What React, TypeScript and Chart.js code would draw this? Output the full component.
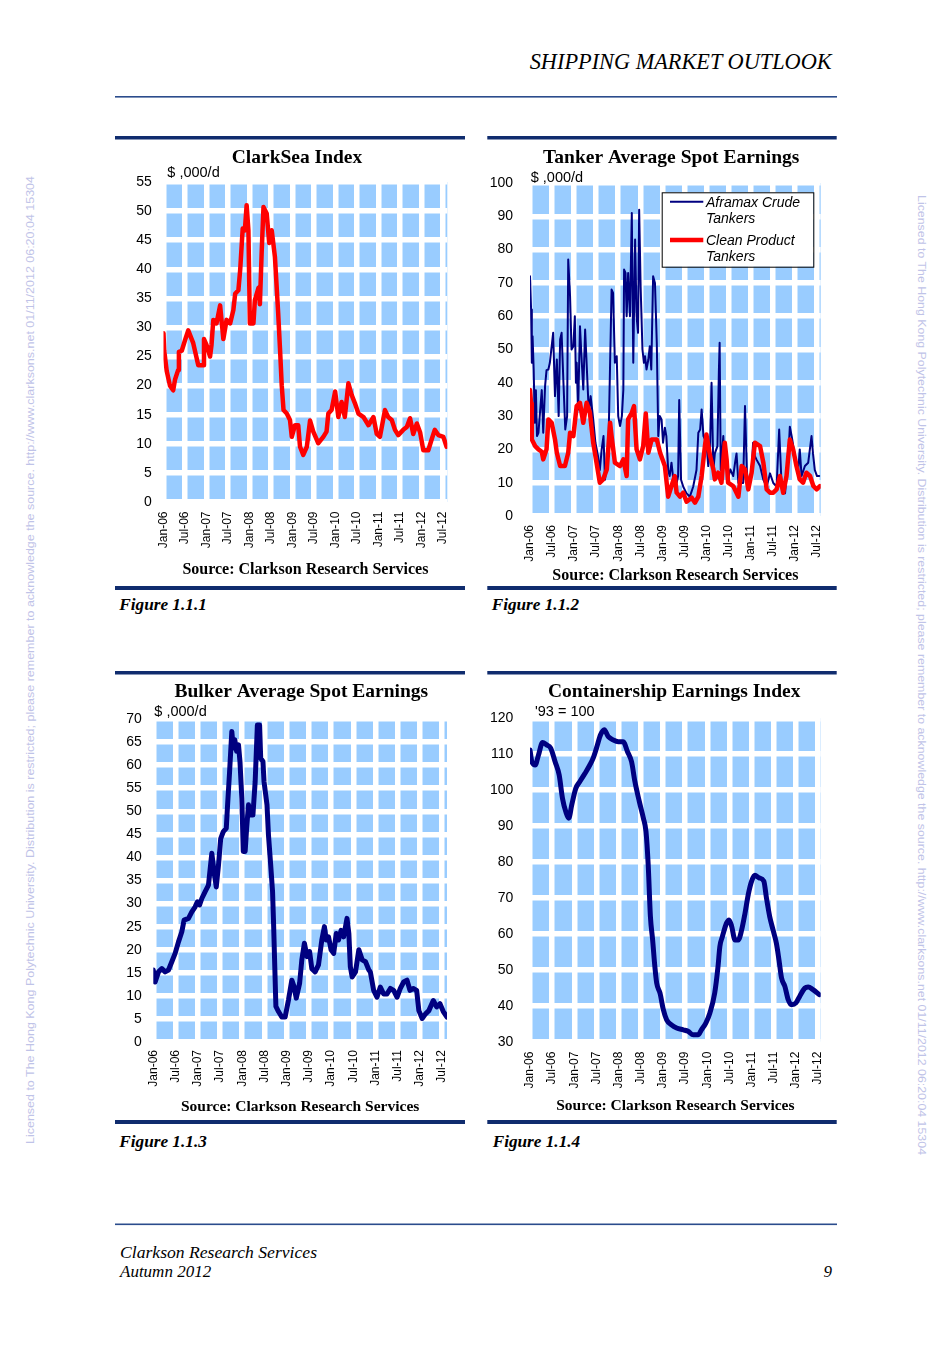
import React, { useEffect, useRef } from "react";
import { Chart, registerables } from "chart.js";

Chart.register(...registerables);

// ---------------- data ----------------
// x values are months since Jan-2006
const xTickLabels = [
  "Jan-06", "Jul-06", "Jan-07", "Jul-07", "Jan-08", "Jul-08", "Jan-09",
  "Jul-09", "Jan-10", "Jul-10", "Jan-11", "Jul-11", "Jan-12", "Jul-12",
];
const monthsPerTick = 6;
const sourceText = "Source: Clarkson Research Services";

// Figure 1.1.1 ClarkSea Index ($ ,000/d)
const clarkseaMonth = [
  0, 0.2, 0.9, 1.8, 2.7, 3.2, 4.1, 4.3, 5.1, 6.0, 6.9, 8.3, 9.7, 11.1, 11.3, 12.0,
  13.0, 13.4, 13.9, 14.8, 15.8, 16.7, 17.6, 18.6, 19.5, 20.0, 20.9, 21.4, 22.1,
  22.7, 23.2, 23.7, 24.1, 25.1, 25.5, 26.5, 26.9, 27.4, 27.9, 28.8, 29.5, 30.2,
  31.1, 32.0, 32.5, 33.0, 33.5, 34.4, 35.3, 35.8, 36.7, 37.6, 38.1, 39.0, 40.0,
  40.9, 41.8, 43.2, 44.6, 45.5, 46.0, 46.9, 47.9, 48.8, 49.7, 50.6, 51.6, 52.5,
  53.4, 54.4, 55.8, 57.2, 58.6, 59.5, 60.4, 61.8, 62.7, 63.7, 64.6, 65.5, 66.9,
  67.9, 68.8, 69.7, 70.7, 71.6, 72.5, 73.9, 74.8, 75.7, 76.7, 78.1, 79.0,
];
const clarkseaValue = [
  29, 26, 22.5, 20, 19.2, 21, 22.7, 25.8, 26, 27.8, 29.5, 27.3, 23.5, 23.5, 28, 27,
  25, 27, 31.3, 30.7, 33.8, 28, 31.3, 30.7, 33, 35.8, 36.4, 39.9, 47,
  46.7, 51, 46.7, 30.7, 30.7, 34.7, 36.8, 34, 43, 50.7, 49.6, 44.5, 46.7,
  42.1, 32.5, 26.5, 20, 15.8, 15.2, 14.1, 11.2, 13.2, 13.2, 9.5, 8.1, 9.5,
  14, 12.1, 10.1, 11.2, 12.1, 15.2, 15.8, 19, 14.6, 17.2, 14.6, 20.4, 18.4,
  17, 15.2, 14.6, 13.2, 14.6, 11.7, 11.2, 15.8, 14.6, 14.1, 12.4, 11.5, 12.4,
  12.9, 14.4, 11.7, 13.5, 12, 8.9, 8.9, 10.7, 12.4, 11.5, 11.2, 9.5,
];

// Figure 1.1.2 Tanker Average Spot Earnings ($ ,000/d)
const aframaxLabel = "Aframax Crude Tankers";
const aframaxMonth = [
  0, 0.3, 0.5, 0.7, 1.0, 1.3, 1.6, 1.9, 2.3, 2.7, 3.2, 3.6, 4.1, 4.5, 5.0, 5.4,
  6.3, 6.8, 7.3, 7.8, 8.2, 8.6, 9.1, 9.6, 10.1, 10.4, 10.9, 11.3, 11.8, 12.2,
  12.5, 12.7, 13.1, 13.6, 14.1, 14.5, 15.0, 15.4, 16.0, 16.5, 17.2, 17.8, 18.5,
  19.0, 19.5, 20.0, 20.4, 20.9, 21.4, 21.8, 22.2, 22.6, 23.1, 23.6, 24.0, 24.5,
  25.0, 25.4, 25.6, 26.0, 26.3, 26.7, 27.2, 27.7, 28.1, 28.6, 29.0, 29.4, 29.7,
  30.1, 30.6, 31.0, 31.3, 31.7, 32.2, 32.6, 33.0, 33.5, 34.0, 34.5, 34.9, 35.3,
  35.8, 36.2, 36.7, 37.1, 37.6, 38.0, 38.5, 39.0, 39.5, 39.9, 40.3, 40.6, 41.1,
  41.7, 42.6, 43.5, 44.4, 45.3, 45.8, 46.3, 46.7, 47.2, 48.0, 48.5, 49.0, 49.4,
  49.9, 50.3, 51.0, 51.4, 51.6, 51.9, 52.6, 53.0, 53.5, 53.9, 54.5, 55.3, 55.8,
  56.2, 56.7, 58.0, 58.5, 59.0, 59.4, 60.3, 60.7, 61.2, 61.6, 62.6, 63.5, 64.4,
  65.3, 66.2, 67.1, 67.8, 68.4, 69.4, 70.3, 70.7, 71.2, 72.1, 73.0, 73.4, 73.9,
  74.8, 75.7, 76.6, 77.0, 77.5, 78.1, 78.7,
];
const aframaxValue = [
  72, 62, 46, 54, 44, 28, 37.8, 24, 25, 30.8, 37.8, 25, 39, 43.8, 44, 46,
  55, 36, 47, 30, 53, 55, 40, 26, 30, 77, 66, 50, 51, 60,
  40, 46, 32, 57, 46, 38, 56, 46, 31, 36, 29, 22, 18,
  13.8, 20, 24, 10.9, 15, 24, 46, 68, 67, 46, 48, 30, 27,
  30, 38, 74, 73, 60, 73, 60, 91, 46, 83, 60, 55, 92,
  69, 50, 46, 48, 44, 47, 51, 44, 72, 70, 52, 24, 30,
  29, 22, 26.5, 24, 13.8, 12, 16, 10.9, 12, 9.9, 12, 34.8, 10.9,
  8.8, 6.8, 5.8, 8.8, 13.8, 25, 26, 32, 24, 22, 15, 21, 40,
  13.8, 18.8, 21, 43.8, 52, 13.8, 24, 15, 18, 11, 14, 12, 16,
  18.8, 9.9, 9.9, 33, 13.8, 8.8, 13.8, 22, 18, 17, 15, 10.9, 8.8,
  12.8, 9.9, 8.8, 26, 10.9, 6.8, 18, 26.8, 24, 18, 13.8, 20, 12,
  15, 16, 24, 18.8, 13.8, 12, 12,
];
const cleanLabel = "Clean Product Tankers";
const cleanMonth = [
  0, 0.3, 0.5, 1.4, 2.3, 3.2, 3.6, 4.5, 5.0, 5.9, 6.8, 7.3, 8.2, 9.5, 10.4, 10.9,
  11.8, 12.7, 13.6, 14.5, 15.4, 16.3, 17.2, 18.1, 19.0, 19.9, 20.9, 21.8, 22.2,
  23.1, 24.5, 25.4, 26.3, 26.7, 27.7, 28.3, 29.0, 29.9, 30.8, 31.5, 32.2, 33.1,
  34.5, 35.4, 36.7, 37.6, 38.5, 39.4, 39.9, 40.8, 41.7, 42.6, 44.0, 44.9, 45.8,
  46.7, 47.6, 48.0, 49.0, 49.9, 50.3, 51.2, 52.1, 53.0, 53.5, 53.9, 55.3, 56.7,
  57.6, 58.5, 59.4, 60.3, 61.2, 62.6, 63.5, 64.4, 65.3, 66.2, 67.1, 68.0, 68.9,
  69.8, 70.7, 71.6, 72.5, 73.4, 74.3, 75.2, 76.2, 77.1, 78.0, 78.9,
];
const cleanValue = [
  37.8, 33.8, 23, 21, 20, 19.3, 17, 20, 29, 28, 23, 19, 15, 15, 19, 25,
  24, 33, 34, 28, 34, 31, 22, 16, 10, 11, 14, 28, 24,
  16, 15, 17, 12, 29, 31, 33, 20, 17, 21, 30.8, 19, 23,
  23, 19, 15, 5.8, 9, 12, 7, 5.8, 7, 4.3, 5.5, 4, 5.8,
  12, 21, 24.5, 18, 14, 11, 13, 10, 22, 17, 10, 9, 5.8,
  15, 14, 8, 13, 22, 21, 16, 8, 7, 7, 8, 12, 7,
  12, 23, 20, 15, 11, 10, 13, 12, 9, 8, 9,
];

// Figure 1.1.3 Bulker Average Spot Earnings ($ ,000/d)
const bulkerMonth = [
  0, 0.5, 1.4, 2.3, 3.2, 4.1, 5.0, 5.9, 6.8, 7.7, 8.3, 9.5, 10.4, 11.3, 11.9, 12.5,
  13.1, 14.0, 14.9, 15.8, 16.4, 17.0, 17.6, 18.2, 18.9, 19.7, 20.0, 20.6, 21.2,
  21.6, 22.0, 22.5, 23.0, 23.4, 23.9, 24.3, 24.8, 25.2, 25.7, 26.1, 26.9, 27.5,
  28.1, 28.7, 29.0, 29.6, 29.9, 30.7, 31.1, 31.7, 32.2, 32.5, 32.8, 33.1, 33.8,
  34.7, 35.6, 36.5, 37.4, 38.0, 38.6, 39.5, 40.1, 40.8, 41.5, 42.2, 42.8, 43.7,
  44.6, 45.5, 46.2, 46.7, 47.3, 48.0, 48.7, 49.4, 50.0, 50.7, 51.4, 52.3, 52.8,
  53.2, 53.7, 54.6, 55.5, 56.4, 57.3, 58.2, 58.6, 59.5, 60.4, 61.3, 62.2, 63.1,
  64.0, 64.9, 65.8, 66.7, 67.6, 68.5, 69.3, 70.2, 71.1, 71.7, 72.6, 73.5, 74.4,
  75.6, 76.5, 77.4, 78.3, 79.3,
];
const bulkerValue = [
  15.6, 13, 15.2, 15.9, 15.2, 15.6, 17.4, 19.2, 21.7, 23.9, 26.4, 26.8, 28.2, 29.3, 30.4, 29.7,
  31.1, 32.6, 34, 40.9, 36.9, 33.6, 38.3, 44.1, 45.6, 46.3, 50.6, 58.6, 67.3,
  63.7, 65.5, 63, 64.4, 60.8, 52.8, 41.3, 41.3, 46.3, 51.4, 49.2, 49.2, 56.4,
  68.7, 68.7, 61.5, 60.8, 56.4, 51.4, 44.8, 38.3, 32.6, 25, 16.3, 7.7, 6.6,
  5.4, 5.4, 9.1, 13.4, 12, 9.5, 12.7, 17.8, 21.4, 18.5, 19.6, 15.9, 15.2,
  16.7, 22.1, 25, 22.1, 22.8, 20, 19.2, 23.5, 22.1, 24.2, 22.8, 26.8, 23.5,
  16.3, 14.1, 15.2, 20, 17.8, 17.4, 15.6, 15.2, 11.2, 9.7, 11.9, 10.4, 10.4,
  11.6, 11.2, 9.7, 11.6, 13, 13.4, 11.2, 11.6, 11.2, 6.8, 5.1, 6.1, 6.8,
  9, 7.6, 8.3, 6.6, 5.4,
];

// Figure 1.1.4 Containership Earnings Index ('93 = 100)
const containerMonth = [
  0, 0.5, 1.4, 2.3, 3.4, 4.5, 5.6, 6.8, 7.9, 8.8, 9.7, 10.5, 11.3, 12.4, 13.5, 14.9,
  16.2, 17.1, 18.0, 19.1, 20.1, 21.2, 22.5, 23.9, 25.2, 26.4, 27.5, 28.4, 29.6,
  30.7, 31.4, 32.0, 32.6, 33.2, 33.8, 34.3, 35.2, 36.1, 37.0, 38.3, 39.7, 41.5,
  42.8, 44.2, 45.5, 46.4, 47.6, 48.7, 50.0, 50.9, 51.4, 52.1, 53.2, 53.9, 54.6,
  55.5, 56.4, 57.3, 58.2, 59.1, 60.0, 60.9, 62.0, 63.3, 64.0, 64.9, 65.8, 66.7,
  67.4, 68.1, 69.0, 69.9, 70.8, 72.0, 73.0, 74.4, 75.3, 76.6, 78.3,
];
const containerValue = [
  111.2, 107.9, 107, 109.8, 113.3, 112.6, 111.7, 107.9, 104.2, 97.7, 94, 92.2, 95.9, 100.5, 102.4, 104.7,
  107, 108.9, 111.7, 115.4, 116.8, 114.9, 114, 113.5, 113.5, 110.7, 107.9, 102.4, 96.8,
  92.2, 88.5, 79.2, 64.8, 58.3, 50.9, 46.3, 43.5, 38.9, 36.1, 34.7, 33.8, 33.3,
  32.9, 31.9, 31.9, 33.3, 35.2, 38, 43.5, 50.9, 56.5, 59.3, 63, 63.9, 62.1,
  58.3, 58.3, 61.1, 65.7, 71, 74.7, 76.3, 75.6, 74.7, 70.1, 64.8, 61.1, 57.4,
  52.8, 47.7, 45.4, 41.7, 40.3, 40.8, 42.6, 44.9, 45.2, 44.5, 43.1,
];

// ---------------- styles ----------------
const SERIF = "'Liberation Serif', 'Times New Roman', serif";
const SANS = "'Liberation Sans', Arial, sans-serif";
const PLOT_BG = "#99CCFF";
const NAVY = "#000080";
const RED = "#FF0000";
const BAR = "#102C6E";
const RULE = "#2B4C8C";
const WATER = "#BFC3E8";

const watermark =
  "Licensed to The Hong Kong Polytechnic University.  Distribution is restricted; please remember to acknowledge the source.  http://www.clarksons.net  01/11/2012 06:20:04 15304";

const decorPlugin = {
  id: "decor",
  beforeDraw(chart: any) {
    const { ctx, chartArea: a } = chart;
    ctx.save();
    ctx.fillStyle = PLOT_BG;
    ctx.fillRect(a.left, a.top, a.right - a.left, a.bottom - a.top);
    ctx.restore();
  },
  afterDraw(chart: any, _args: any, opts: any) {
    const ctx = chart.ctx;
    ctx.save();
    ctx.fillStyle = "#000";
    ctx.font = `bold ${opts.titleSize}px ${SERIF}`;
    ctx.textAlign = "center";
    ctx.textBaseline = "alphabetic";
    ctx.fillText(opts.title, opts.titleX, opts.titleY);
    ctx.font = `${opts.unitSize}px ${SANS}`;
    ctx.textAlign = "left";
    ctx.textBaseline = "middle";
    ctx.fillText(opts.unit, opts.unitX, opts.unitY);
    const L = opts.legend;
    if (L) {
      ctx.fillStyle = "#fff";
      ctx.fillRect(L.x, L.y, L.w, L.h);
      ctx.strokeStyle = "#000";
      ctx.lineWidth = 1;
      ctx.strokeRect(L.x + 0.5, L.y + 0.5, L.w, L.h);
      chart.data.datasets.forEach((ds: any, i: number) => {
        const yc = L.y + L.rowTop + i * L.rowGap;
        ctx.strokeStyle = ds.borderColor;
        ctx.lineWidth = ds.borderWidth;
        ctx.lineCap = "butt";
        ctx.beginPath();
        ctx.moveTo(L.x + L.lineX0, yc);
        ctx.lineTo(L.x + L.lineX1, yc);
        ctx.stroke();
        const label: string = ds.label;
        const cut = label.lastIndexOf(" ");
        const lines = [label.slice(0, cut), label.slice(cut + 1)];
        ctx.fillStyle = "#000";
        ctx.font = `italic ${L.fontSize}px ${SANS}`;
        ctx.textAlign = "left";
        ctx.textBaseline = "middle";
        lines.forEach((t, j) => ctx.fillText(t, L.x + L.textX, yc + 1 + j * L.lineHeight));
      });
    }
    ctx.restore();
  },
};

type Series = {
  label: string;
  months: number[];
  values: number[];
  color: string;
  width: number;
  order: number;
  smooth?: boolean;
};

type Spec = {
  left: number;
  top: number;
  width: number;
  height: number;
  yMin: number;
  yMax: number;
  yStep: number;
  yAxisWidth: number;
  yPad: number;
  xMax: number;
  xAxisHeight: number;
  xPad: number;
  pad: { top: number; right: number; bottom: number };
  sourceSize: number;
  series: Series[];
  decor: any;
};

function PanelChart({ spec }: { spec: Spec }) {
  const ref = useRef<HTMLCanvasElement>(null);
  useEffect(() => {
    const chart = new Chart(ref.current as HTMLCanvasElement, {
      type: "line",
      data: {
        datasets: spec.series.map((s) => ({
          label: s.label,
          data: s.months.map((m, i) => ({ x: m, y: s.values[i] })),
          borderColor: s.color,
          backgroundColor: s.color,
          borderWidth: s.width,
          pointRadius: 0,
          tension: 0,
          cubicInterpolationMode: s.smooth ? "monotone" : "default",
          borderJoinStyle: "round",
          borderCapStyle: "round",
          order: s.order,
        })),
      } as any,
      options: {
        animation: false,
        responsive: false,
        events: [],
        layout: { padding: { left: 0, right: spec.pad.right, top: spec.pad.top, bottom: spec.pad.bottom } },
        plugins: {
          legend: { display: false },
          title: { display: false },
          tooltip: { enabled: false },
          decor: spec.decor,
        } as any,
        scales: {
          x: {
            type: "linear",
            bounds: "data",
            min: 0,
            max: spec.xMax,
            afterBuildTicks: (s: any) => {
              s.ticks = xTickLabels.map((_, i) => ({ value: i * monthsPerTick }));
            },
            afterFit: (s: any) => {
              s.height = spec.xAxisHeight;
              s.paddingLeft = 0;
              s.paddingRight = 0;
            },
            ticks: {
              autoSkip: false,
              minRotation: 90,
              maxRotation: 90,
              padding: spec.xPad,
              color: "#000",
              font: { family: SANS, size: 12 },
              callback: (_v: any, i: number) => xTickLabels[i],
            },
            grid: { color: "#FFFFFF", lineWidth: 5.5, drawTicks: false },
            border: { display: false },
            title: {
              display: true,
              text: sourceText,
              color: "#000",
              font: { family: SERIF, size: spec.sourceSize, weight: "bold" },
              padding: { top: 0, bottom: 0 },
            },
          },
          y: {
            type: "linear",
            min: spec.yMin,
            max: spec.yMax,
            afterFit: (s: any) => {
              s.width = spec.yAxisWidth;
              s.paddingTop = 0;
              s.paddingBottom = 0;
            },
            ticks: {
              stepSize: spec.yStep,
              padding: spec.yPad,
              color: "#000",
              font: { family: SANS, size: 14 },
            },
            grid: { color: "#FFFFFF", lineWidth: 5.5, drawTicks: false },
            border: { display: false },
          },
        } as any,
      },
      plugins: [decorPlugin as any],
    });
    return () => chart.destroy();
  }, []);
  return (
    <canvas
      ref={ref}
      width={spec.width}
      height={spec.height}
      style={{ position: "absolute", left: spec.left, top: spec.top, width: spec.width, height: spec.height }}
    />
  );
}

const specs: Spec[] = [
  {
    left: 115, top: 140, width: 350, height: 444,
    yMin: 0, yMax: 55, yStep: 5, yAxisWidth: 48.5, yPad: 11.8,
    xMax: 79.2, xAxisHeight: 77.6, xPad: 9.5,
    pad: { top: 42, right: 17.7, bottom: 4.4 },
    sourceSize: 16,
    series: [
      { label: "ClarkSea Index", months: clarkseaMonth, values: clarkseaValue, color: RED, width: 4.5, order: 0 },
    ],
    decor: { title: "ClarkSea Index", titleX: 182, titleY: 22.7, titleSize: 19.5, unit: "$ ,000/d", unitX: 52.3, unitY: 33.3, unitSize: 14.5 },
  },
  {
    left: 485, top: 140, width: 352, height: 446,
    yMin: 0, yMax: 100, yStep: 10, yAxisWidth: 45, yPad: 17,
    xMax: 79.1, xAxisHeight: 69.3, xPad: 9,
    pad: { top: 43, right: 16.3, bottom: 0.7 },
    sourceSize: 16,
    series: [
      { label: aframaxLabel, months: aframaxMonth, values: aframaxValue, color: NAVY, width: 2, order: 1 },
      { label: cleanLabel, months: cleanMonth, values: cleanValue, color: RED, width: 4.5, order: 0 },
    ],
    decor: {
      title: "Tanker Average Spot Earnings", titleX: 186.2, titleY: 22.7, titleSize: 19.5,
      unit: "$ ,000/d", unitX: 45.7, unitY: 37.7, unitSize: 14.5,
      legend: { x: 176.7, y: 52.3, w: 151.6, h: 74.4, rowTop: 9.4, rowGap: 38.3, lineX0: 8.3, lineX1: 41.6, textX: 44.3, lineHeight: 16.6, fontSize: 14 },
    },
  },
  {
    left: 115, top: 676, width: 350, height: 442,
    yMin: 0, yMax: 70, yStep: 5, yAxisWidth: 38.3, yPad: 11.6,
    xMax: 79.3, xAxisHeight: 74, xPad: 8,
    pad: { top: 43, right: 18, bottom: 2 },
    sourceSize: 15.5,
    series: [
      { label: "Bulker Average Spot Earnings", months: bulkerMonth, values: bulkerValue, color: NAVY, width: 5, order: 0 },
    ],
    decor: { title: "Bulker Average Spot Earnings", titleX: 186.3, titleY: 20.7, titleSize: 19.5, unit: "$ ,000/d", unitX: 39.3, unitY: 35.7, unitSize: 14.5 },
  },
  {
    left: 485, top: 676, width: 352, height: 442,
    yMin: 30, yMax: 120, yStep: 10, yAxisWidth: 45, yPad: 16.7,
    xMax: 78.7, xAxisHeight: 73.6, xPad: 10,
    pad: { top: 42.3, right: 16.3, bottom: 2.7 },
    sourceSize: 15.5,
    series: [
      { label: "Containership Earnings Index", months: containerMonth, values: containerValue, color: NAVY, width: 5, order: 0, smooth: true },
    ],
    decor: { title: "Containership Earnings Index", titleX: 189.2, titleY: 20.7, titleSize: 19.5, unit: "'93 = 100", unitX: 50, unitY: 35.7, unitSize: 14.5 },
  },
];

export default function App() {
  return (
    <div style={{ position: "absolute", left: 0, top: 0, width: 952, height: 1347, background: "#fff", overflow: "hidden" }}>
      <svg width={952} height={1347} style={{ position: "absolute", left: 0, top: 0 }}>
        <text x={831.7} y={69.3} textAnchor="end" textLength={302} lengthAdjust="spacingAndGlyphs"
          style={{ fontFamily: SERIF, fontStyle: "italic", fontSize: 23 }} fill="#000">SHIPPING MARKET OUTLOOK</text>
        <rect x={115} y={96} width={722} height={1.6} fill={RULE} />

        <rect x={115} y={136} width={350} height={3.5} fill={BAR} />
        <rect x={487.3} y={136} width={349.4} height={3.5} fill={BAR} />
        <rect x={115} y={586} width={350} height={4} fill={BAR} />
        <rect x={487.3} y={586} width={349.4} height={4} fill={BAR} />
        <rect x={115} y={671} width={350} height={3.5} fill={BAR} />
        <rect x={487.3} y={671} width={349.4} height={3.5} fill={BAR} />
        <rect x={115} y={1120} width={350} height={4} fill={BAR} />
        <rect x={487.3} y={1120} width={349.4} height={4} fill={BAR} />

        {[
          { t: "Figure 1.1.1", x: 119.3, y: 610 },
          { t: "Figure 1.1.2", x: 491.7, y: 610 },
          { t: "Figure 1.1.3", x: 119.3, y: 1146.7 },
          { t: "Figure 1.1.4", x: 492.7, y: 1146.7 },
        ].map((c) => (
          <text key={c.t} x={c.x} y={c.y} textLength={87.5} lengthAdjust="spacingAndGlyphs"
            style={{ fontFamily: SERIF, fontStyle: "italic", fontWeight: "bold", fontSize: 17 }} fill="#000">{c.t}</text>
        ))}

        <rect x={115} y={1223.5} width={722} height={1.6} fill={RULE} />
        <text x={120} y={1258} textLength={197} lengthAdjust="spacingAndGlyphs"
          style={{ fontFamily: SERIF, fontStyle: "italic", fontSize: 17 }} fill="#000">Clarkson Research Services</text>
        <text x={120} y={1277} style={{ fontFamily: SERIF, fontStyle: "italic", fontSize: 17 }} fill="#000">Autumn 2012</text>
        <text x={832} y={1277} textAnchor="end" style={{ fontFamily: SERIF, fontStyle: "italic", fontSize: 17 }} fill="#000">9</text>

        <text transform="translate(34,660) rotate(-90)" textAnchor="middle" textLength={968} lengthAdjust="spacingAndGlyphs"
          style={{ fontFamily: SANS, fontSize: 11.5 }} fill={WATER}>{watermark}</text>
        <text transform="translate(918,675) rotate(90)" textAnchor="middle" textLength={960} lengthAdjust="spacingAndGlyphs"
          style={{ fontFamily: SANS, fontSize: 11.5 }} fill={WATER}>{watermark}</text>
      </svg>
      {specs.map((s, i) => (
        <PanelChart key={i} spec={s} />
      ))}
    </div>
  );
}
